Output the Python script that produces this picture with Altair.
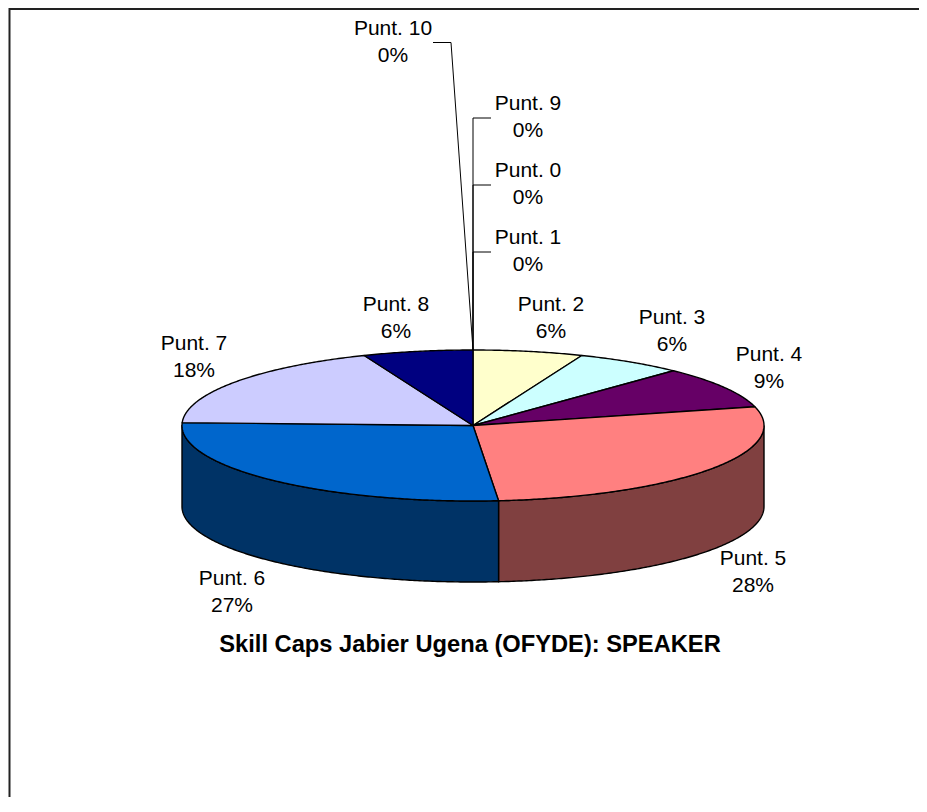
import numpy as np
import pandas as pd
import altair as alt

names = ["Punt. 0", "Punt. 1", "Punt. 2", "Punt. 3", "Punt. 4", "Punt. 5",
         "Punt. 6", "Punt. 7", "Punt. 8", "Punt. 9", "Punt. 10"]
shares = [0, 0, 6.1, 6.0, 8.9, 27.6, 27.0, 18.3, 6.1, 0, 0]
top_colors = ["#993366", "#FFFFCC", "#FFFFCC", "#CCFFFF", "#660066", "#FF8080",
              "#0066CC", "#CCCCFF", "#000080", "#FFFF00", "#00FFFF"]
side_colors = {"Punt. 5": "#804040", "Punt. 6": "#003366"}
title_text = "Skill Caps Jabier Ugena (OFYDE): SPEAKER"

# Pie geometry and layout (pixels of the page)
M = 8
PLOT_RIGHT, PLOT_BOTTOM = 919, 797
CX, CY, RX, RY, DEPTH = 473, 425.5, 291, 75.5, 81
label_pos = {
    "Punt. 10": (393, 29), "Punt. 9": (528, 104), "Punt. 0": (528, 171),
    "Punt. 1": (528, 238), "Punt. 2": (551, 305), "Punt. 3": (672, 318),
    "Punt. 4": (769, 355), "Punt. 5": (753, 559), "Punt. 6": (232, 579),
    "Punt. 7": (194, 344), "Punt. 8": (396, 305),
}
LINE_GAP = 27
leaders = {
    "Punt. 10": [(433, 42.5), (451, 42.5), (CX, CY - RY)],
    "Punt. 9": [(491, 118), (473, 118), (CX, CY - RY)],
    "Punt. 0": [(491, 185), (473, 185), (CX, CY - RY)],
    "Punt. 1": [(491, 252), (473, 252), (CX, CY - RY)],
}

def ex(t):
    return CX + RX * np.sin(np.radians(t))

def ey(t, d=0):
    return CY - RY * np.cos(np.radians(t)) + d

# Slices derived from the shares
edges = np.concatenate([[0], np.cumsum(shares)]) * 3.6
sides, tops = [], []
for i, name in enumerate(names):
    a, b = edges[i], edges[i + 1]
    if b <= a:
        continue
    ts = np.linspace(a, b, max(3, int((b - a) * 2)))
    pts = [(CX, CY)] + [(ex(t), ey(t)) for t in ts] + [(CX, CY)]
    for k, (x, y) in enumerate(pts):
        tops.append(dict(key=name, k=k, x=x, y=y, c=top_colors[i]))
    if name in side_colors:
        lo, hi = max(a, 90), min(b, 270)
        ts = np.linspace(lo, hi, int((hi - lo) * 2))
        pts = [(ex(t), ey(t)) for t in ts] + [(ex(t), ey(t, DEPTH)) for t in ts[::-1]]
        pts.append(pts[0])
        for k, (x, y) in enumerate(pts):
            sides.append(dict(key=name, k=k, x=x, y=y, c=side_colors[name]))

labels = []
for name, share in zip(names, shares):
    x, y = label_pos[name]
    labels.append(dict(x=x, y=y, t=name))
    labels.append(dict(x=x, y=y + LINE_GAP, t=f"{round(share)}%"))

leader_rows = [dict(key=n, k=k, x=x, y=y) for n, p in leaders.items() for k, (x, y) in enumerate(p)]
frame_rows = [dict(k=0, x=PLOT_RIGHT, y=9), dict(k=1, x=9.5, y=9), dict(k=2, x=9.5, y=PLOT_BOTTOM)]

X = alt.X("x:Q", scale=alt.Scale(domain=[M, PLOT_RIGHT], range=[0, PLOT_RIGHT - M], nice=False, zero=False), axis=None)
Y = alt.Y("y:Q", scale=alt.Scale(domain=[M, PLOT_BOTTOM], range=[0, PLOT_BOTTOM - M], nice=False, zero=False), axis=None)
ORDER = alt.Order("k:Q")

def polys(rows):
    return alt.Chart(pd.DataFrame(rows)).mark_line(
        filled=True, stroke="#000000", strokeWidth=1.4, strokeJoin="round", interpolate="linear"
    ).encode(x=X, y=Y, order=ORDER, detail="key:N", fill=alt.Fill("c:N", scale=None))

frame = alt.Chart(pd.DataFrame(frame_rows)).mark_line(stroke="#222222", strokeWidth=2).encode(x=X, y=Y, order=ORDER)
lead = alt.Chart(pd.DataFrame(leader_rows)).mark_line(stroke="#000000", strokeWidth=1).encode(
    x=X, y=Y, order=ORDER, detail="key:N")
text = alt.Chart(pd.DataFrame(labels)).mark_text(
    font="Liberation Sans", fontSize=21, color="#000000", align="center", baseline="middle"
).encode(x=X, y=Y, text="t:N")
title = alt.Chart(pd.DataFrame([dict(x=470, y=645, t=title_text)])).mark_text(
    font="Liberation Sans", fontSize=23.7, fontWeight="bold", color="#000000", align="center", baseline="middle"
).encode(x=X, y=Y, text="t:N")

chart = alt.layer(frame, lead, polys(sides), polys(tops), text, title).properties(
    width=PLOT_RIGHT - M, height=PLOT_BOTTOM - M, padding=0,
    autosize=alt.AutoSizeParams(type="none"),
    background="#FFFFFF",
).configure_view(stroke=None)

chart.save("out.html", embed_options={"renderer": "svg", "actions": False})
